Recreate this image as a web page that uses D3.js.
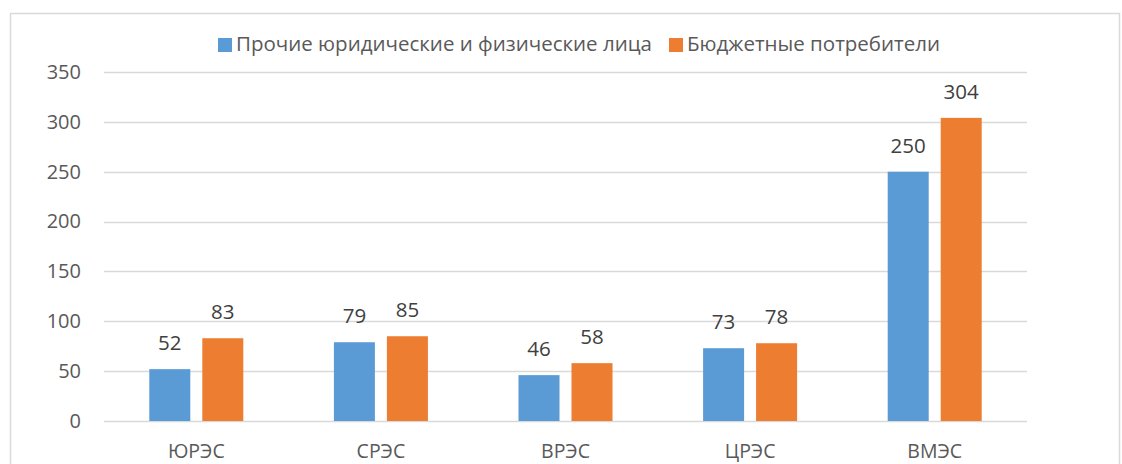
<!DOCTYPE html>
<html lang="ru">
<head>
    <meta charset="UTF-8">
    <title>Chart</title>
    <script src="https://cdn.jsdelivr.net/npm/d3@7"></script>
    <style>
        body { margin: 0; background: #fff; }
        svg text { font-family: "Open Sans", sans-serif; }
    </style>
</head>
<body>
<div id="chart"></div>
<script>
    // data
    var categories = ["ЮРЭС", "СРЭС", "ВРЭС", "ЦРЭС", "ВМЭС"];
    var seriesNames = ["Прочие юридические и физические лица", "Бюджетные потребители"];
    var otherValues = [52, 79, 46, 73, 250];
    var budgetValues = [83, 85, 58, 78, 304];
    var yTicks = [0, 50, 100, 150, 200, 250, 300, 350];
    var colors = ["#5b9bd5", "#ed7d31"];

    var W = 1122, H = 464;
    var margin = {top: 72, right: 95, bottom: 43, left: 104};
    var width = W - margin.left - margin.right,
        height = H - margin.top - margin.bottom;

    var svg = d3.select("#chart")
        .append("svg")
        .attr("width", W)
        .attr("height", H);

    // chart frame
    svg.append("rect")
        .attr("x", 10.5).attr("y", 13.5)
        .attr("width", 1109).attr("height", 470)
        .attr("fill", "none")
        .attr("stroke", "#d9d9d9")
        .attr("stroke-width", 1.5);

    var g = svg.append("g")
        .attr("transform", "translate(" + margin.left + "," + margin.top + ")");

    var x = d3.scaleBand()
        .domain(categories)
        .range([0, width]);

    var y = d3.scaleLinear()
        .domain([0, 350])
        .range([height, 0]);

    var barW = 41, gap = 12;

    // gridlines
    g.selectAll(".grid")
        .data(yTicks)
        .enter()
        .append("line")
        .attr("x1", 0).attr("x2", width)
        .attr("y1", d => Math.round(y(d)) + 0.5)
        .attr("y2", d => Math.round(y(d)) + 0.5)
        .attr("stroke", "#d9d9d9")
        .attr("stroke-width", 1.5);

    // y axis labels
    var yAxis = d3.axisLeft(y).tickValues(yTicks).tickSize(0).tickPadding(23);
    var ya = g.append("g").call(yAxis);
    ya.select(".domain").remove();
    ya.selectAll("text")
        .attr("fill", "#595959")
        .style("font-size", "20px")
        .style("font-family", "'Open Sans', sans-serif");

    // x axis labels
    var xAxis = d3.axisBottom(x).tickSize(0).tickPadding(0);
    var xa = g.append("g")
        .attr("transform", "translate(0," + height + ")")
        .call(xAxis);
    xa.select(".domain").remove();
    xa.selectAll("text")
        .attr("dy", null)
        .attr("y", 37)
        .attr("fill", "#595959")
        .style("font-size", "19.5px")
        .style("font-family", "'Open Sans', sans-serif");

    var series = [otherValues, budgetValues];
    series.forEach(function (vals, s) {
        var offset = s === 0 ? -gap / 2 - barW : gap / 2;
        g.selectAll(".bar" + s)
            .data(vals)
            .enter()
            .append("rect")
            .attr("x", (d, i) => x(categories[i]) + x.bandwidth() / 2 + offset)
            .attr("y", d => y(d))
            .attr("width", barW)
            .attr("height", d => y(0) - y(d))
            .attr("fill", colors[s]);

        g.selectAll(".lbl" + s)
            .data(vals)
            .enter()
            .append("text")
            .attr("x", (d, i) => x(categories[i]) + x.bandwidth() / 2 + offset + barW / 2)
            .attr("y", d => y(d) - 19)
            .attr("text-anchor", "middle")
            .attr("fill", "#404040")
            .style("font-size", "20.5px")
            .text(d => d);
    });

    // legend
    var legend = svg.append("g").attr("transform", "translate(218,38)");
    var lx = [0, 451];
    seriesNames.forEach(function (name, i) {
        legend.append("rect")
            .attr("x", lx[i]).attr("y", 0)
            .attr("width", 14).attr("height", 14)
            .attr("fill", colors[i]);
        legend.append("text")
            .attr("x", lx[i] + 18).attr("y", 13)
            .attr("fill", "#595959")
            .style("font-size", "20.5px")
            .text(name);
    });
</script>
</body>
</html>
